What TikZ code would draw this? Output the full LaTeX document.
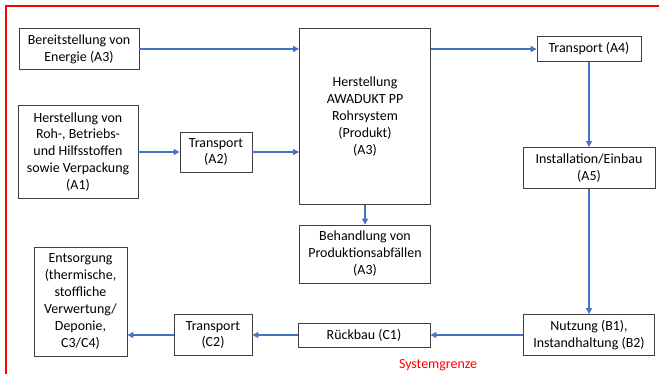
\documentclass[tikz,border=0pt]{standalone}
\usepackage{fontspec}
\setmainfont{Carlito}
\usetikzlibrary{arrows.meta}
\definecolor{arrblue}{HTML}{4472C4}
\definecolor{boxgray}{HTML}{404040}
\tikzset{
  box/.style={draw=boxgray, line width=0.9bp, align=center, inner sep=1pt,
    font=\fontsize{14}{17}\selectfont, text=black},
  flow/.style={draw=arrblue, line width=2bp, -{Triangle[length=6bp,width=6bp]}},
}
\begin{document}
\begin{tikzpicture}[x=1bp,y=-1bp]
\useasboundingbox (0,0) rectangle (659,374);
\draw[red, line width=2bp] (6,374) -- (6,6) -- (659,6);
\node[box, minimum width=120bp, minimum height=41bp] (bere) at (79,49) {Bereitstellung von\\Energie (A3)};
\node[box, minimum width=120bp, minimum height=93bp] (roh) at (78,152) {Herstellung von\\Roh-, Betriebs-\\und Hilfsstoffen\\sowie Verpackung\\(A1)};
\node[box, minimum width=72bp, minimum height=40bp] (ta2) at (216,152) {Transport\\(A2)};
\node[box, minimum width=131bp, minimum height=176bp] (herst) at (365,116.5) {Herstellung\\AWADUKT PP\\Rohrsystem\\(Produkt)\\(A3)};
\node[box, minimum width=131bp, minimum height=58bp] (beh) at (365,254) {Behandlung von\\Produktionsabfällen\\(A3)};
\node[box, minimum width=104bp, minimum height=25bp] (ta4) at (589,49) {Transport (A4)};
\node[box, minimum width=132bp, minimum height=41bp] (inst) at (589,168) {Installation/Einbau\\(A5)};
\node[box, minimum width=131bp, minimum height=41bp] (nutz) at (589,335) {Nutzung (B1),\\Instandhaltung (B2)};
\node[box, minimum width=132bp, minimum height=24bp] (rueck) at (364,335) {Rückbau (C1)};
\node[box, minimum width=78bp, minimum height=41bp] (tc2) at (213,335) {Transport\\(C2)};
\node[box, minimum width=93bp, minimum height=109bp] (ents) at (80.5,301.5) {Entsorgung\\(thermische,\\stoffliche\\Verwertung/\\Deponie,\\C3/C4)};
\node[text=red, font=\fontsize{14}{17}\selectfont] (sg) at (438,365) {Systemgrenze};
\draw[flow] (bere) -- (bere -| herst.west);
\draw[flow] (roh) -- (ta2);
\draw[flow] (ta2) -- (ta2 -| herst.west);
\draw[flow] (herst.east |- ta4) -- (ta4);
\draw[flow] (ta4) -- (inst);
\draw[flow] (herst) -- (beh);
\draw[flow] (inst) -- (nutz);
\draw[flow] (nutz) -- (rueck);
\draw[flow] (rueck) -- (tc2);
\draw[flow] (tc2.west) -- (tc2.west -| ents.east);
\end{tikzpicture}
\end{document}
